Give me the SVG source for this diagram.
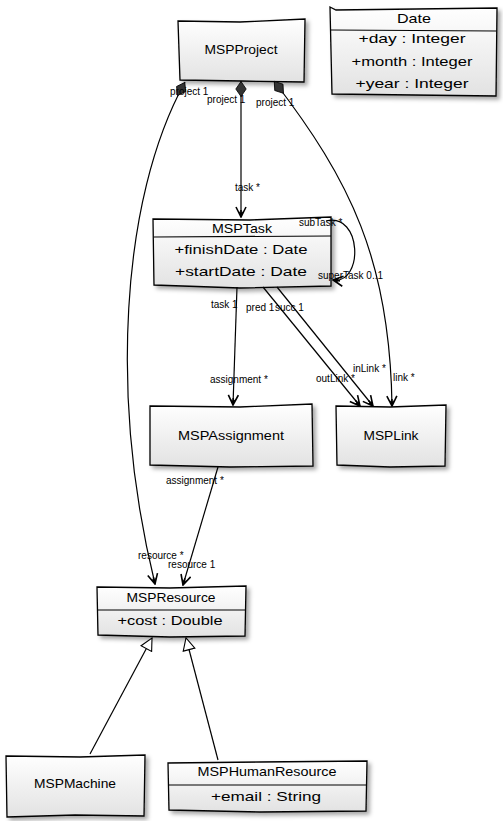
<svg xmlns="http://www.w3.org/2000/svg" width="503" height="821" viewBox="0 0 503 821">
<defs>
<linearGradient id="g" x1="0" y1="0" x2="0" y2="1">
<stop offset="0" stop-color="#ffffff"/>
<stop offset="1" stop-color="#e2e2e2"/>
</linearGradient>
<filter id="sh" x="-10%" y="-10%" width="130%" height="140%">
<feDropShadow dx="3" dy="3" stdDeviation="2" flood-color="#000" flood-opacity="0.35"/>
</filter>
<marker id="arr" viewBox="0 0 12 12" refX="11" refY="6" markerWidth="12" markerHeight="12" markerUnits="userSpaceOnUse" orient="auto">
<path d="M1,1 L11,6 L1,11 M11,6 L4,6" fill="none" stroke="#000" stroke-width="1.6"/>
<path d="M11,6 L5,3.5 L7,6 L5,8.5 Z" fill="#000"/>
</marker>
<marker id="dia" viewBox="0 0 16 12" refX="0" refY="6" markerWidth="16" markerHeight="12" markerUnits="userSpaceOnUse" orient="auto">
<path d="M0.5,6 L8,0.8 L15.5,6 L8,11.2 Z" fill="#333" stroke="#000" stroke-width="0.8"/>
</marker>
<marker id="tri" viewBox="0 0 14 14" refX="13" refY="7" markerWidth="14" markerHeight="14" markerUnits="userSpaceOnUse" orient="auto">
<path d="M1,1 L13,7 L1,13 Z" fill="#fff" stroke="#000" stroke-width="1.1"/>
</marker>
</defs>
<style>
.box{fill:url(#g);stroke:#000;stroke-width:1.3;filter:url(#sh)}
.div{stroke:#000;stroke-width:1.1;fill:none}
.t{font-family:"Liberation Sans",Arial,sans-serif;font-size:13px;fill:#000;text-anchor:middle}
.lb{font-family:"Liberation Sans",Arial,sans-serif;font-size:10px;fill:#000}
.e{fill:none;stroke:#000;stroke-width:1.2}
</style>

<g id="MSPProject">
<path class="box" d="M178,21 L240,22 L305,19 L304,82 L242,81 L180,80 Z"/>
<text class="t" x="241" y="54" textLength="73" lengthAdjust="spacingAndGlyphs">MSPProject</text>
</g>

<g id="Date">
<path class="box" d="M330,7 L336,10 L497,8 L496,96 L332,94 Z"/>
<path class="div" d="M331,30 L496,31"/>
<text class="t" x="414" y="23" textLength="34" lengthAdjust="spacingAndGlyphs">Date</text>
<text class="t" x="412" y="43" textLength="107" lengthAdjust="spacingAndGlyphs">+day : Integer</text>
<text class="t" x="412" y="66" textLength="121" lengthAdjust="spacingAndGlyphs">+month : Integer</text>
<text class="t" x="412" y="88" textLength="113" lengthAdjust="spacingAndGlyphs">+year : Integer</text>
</g>

<g id="MSPTask">
<path class="box" d="M153,219 L250,220 L331,217 L331,286 L240,288 L154,285 Z"/>
<path class="div" d="M154,237 L331,236"/>
<text class="t" x="242" y="233" textLength="60" lengthAdjust="spacingAndGlyphs">MSPTask</text>
<text class="t" x="241" y="254" textLength="133" lengthAdjust="spacingAndGlyphs">+finishDate : Date</text>
<text class="t" x="241" y="276" textLength="132" lengthAdjust="spacingAndGlyphs">+startDate : Date</text>
</g>

<g id="MSPAssignment">
<path class="box" d="M150,406 L240,407 L312,404 L313,466 L230,467 L150,465 Z"/>
<text class="t" x="231" y="440" textLength="106" lengthAdjust="spacingAndGlyphs">MSPAssignment</text>
</g>

<g id="MSPLink">
<path class="box" d="M336,406 L390,407 L446,405 L445,466 L390,467 L337,465 Z"/>
<text class="t" x="391" y="440" textLength="55" lengthAdjust="spacingAndGlyphs">MSPLink</text>
</g>

<g id="MSPResource">
<path class="box" d="M97,587 L170,588 L246,586 L245,636 L170,637 L98,635 Z"/>
<path class="div" d="M98,610 L245,610"/>
<text class="t" x="171" y="602" textLength="89" lengthAdjust="spacingAndGlyphs">MSPResource</text>
<text class="t" x="170" y="625" textLength="105" lengthAdjust="spacingAndGlyphs">+cost : Double</text>
</g>

<g id="MSPMachine">
<path class="box" d="M6,756 L80,757 L145,755 L144,816 L75,815 L7,817 Z"/>
<text class="t" x="75" y="788" textLength="82" lengthAdjust="spacingAndGlyphs">MSPMachine</text>
</g>

<g id="MSPHumanResource">
<path class="box" d="M168,763 L260,762 L367,761 L366,811 L260,812 L169,810 Z"/>
<path class="div" d="M169,785 L366,785"/>
<text class="t" x="267" y="776" textLength="139" lengthAdjust="spacingAndGlyphs">MSPHumanResource</text>
<text class="t" x="266" y="801" textLength="110" lengthAdjust="spacingAndGlyphs">+email : String</text>
</g>

<g id="connectors">
<path class="e" d="M185,82 C120,200 110,400 155,584" marker-start="url(#dia)" marker-end="url(#arr)"/>
<path class="e" d="M241,81 L241,217" marker-start="url(#dia)" marker-end="url(#arr)"/>
<path class="e" d="M274,81 C350,180 390,260 392,406" marker-start="url(#dia)" marker-end="url(#arr)"/>
<path class="e" d="M326,221 C362,212 364,284 333,280" marker-end="url(#arr)"/>
<path class="e" d="M237,287 L233,405" marker-end="url(#arr)"/>
<path class="e" d="M263,287 L360,406" marker-end="url(#arr)"/>
<path class="e" d="M277,287 L373,406" marker-end="url(#arr)"/>
<path class="e" d="M218,467 L183,585" marker-end="url(#arr)"/>
<path class="e" d="M90,754 L152,638" marker-end="url(#tri)"/>
<path class="e" d="M218,760 L186,638" marker-end="url(#tri)"/>
<text class="lb" x="170" y="95">project 1</text>
<text class="lb" x="207" y="103">project 1</text>
<text class="lb" x="256" y="106">project 1</text>
<text class="lb" x="235" y="191">task *</text>
<text class="lb" x="393" y="381">link *</text>
<text class="lb" x="299" y="226">subTask *</text>
<text class="lb" x="318" y="279">superTask 0..1</text>
<text class="lb" x="211" y="308">task 1</text>
<text class="lb" x="246" y="311">pred 1</text>
<text class="lb" x="275" y="311">succ 1</text>
<text class="lb" x="210" y="383">assignment *</text>
<text class="lb" x="316" y="382">outLink *</text>
<text class="lb" x="353" y="372">inLink *</text>
<text class="lb" x="166" y="484">assignment *</text>
<text class="lb" x="138" y="559">resource *</text>
<text class="lb" x="168" y="568">resource 1</text>
</g>
</svg>
